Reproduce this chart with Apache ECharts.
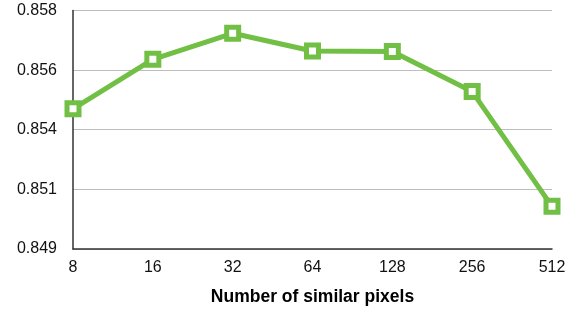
<!DOCTYPE html>
<html>
<head>
<meta charset="utf-8">
<script src="https://cdn.jsdelivr.net/npm/echarts@6/dist/echarts.min.js"></script>
<style>html,body{margin:0;padding:0;background:#fff}#c{width:578px;height:311px}</style>
</head>
<body>
<div id="c"></div>
<script>
const categories = ['8', '16', '32', '64', '128', '256', '512'];
const values = [0.85429, 0.85616, 0.85714, 0.85647, 0.85645, 0.85494, 0.85061];
const yTicks = [0.849, 0.85125, 0.8535, 0.85575, 0.858];
const xTitle = 'Number of similar pixels';

const chart = echarts.init(document.getElementById('c'), null, {renderer: 'canvas'});
const font = 'Liberation Sans, Arial, Helvetica, sans-serif';
chart.setOption({
  animation: false,
  grid: {left: 73, right: 26, top: 10.5, bottom: 61.7},
  xAxis: {
    type: 'category',
    data: categories,
    boundaryGap: false,
    name: xTitle,
    nameLocation: 'middle',
    nameGap: 39,
    nameTextStyle: {fontFamily: font, fontSize: 17.5, fontWeight: 'bold', color: '#000'},
    axisLine: {show: true, lineStyle: {color: '#333', width: 1.5}},
    axisTick: {show: false},
    axisLabel: {fontFamily: font, fontSize: 16, color: '#111', margin: 11},
    splitLine: {show: false}
  },
  yAxis: {
    type: 'value',
    min: yTicks[0],
    max: yTicks[yTicks.length - 1],
    axisLine: {show: true, lineStyle: {color: '#333', width: 1.5}},
    axisTick: {show: false, customValues: yTicks},
    axisLabel: {fontFamily: font, fontSize: 16, color: '#111', margin: 16,
      customValues: yTicks,
      formatter: v => v.toFixed(3)},
    splitLine: {show: true, lineStyle: {color: '#bdbdbd', width: 1}}
  },
  series: [{
    type: 'line',
    data: values,
    symbol: 'rect',
    symbolSize: 12,
    lineStyle: {color: '#71bf44', width: 5},
    itemStyle: {color: '#ffffff', borderColor: '#71bf44', borderWidth: 5},
    z: 3
  }]
});
</script>
</body>
</html>
